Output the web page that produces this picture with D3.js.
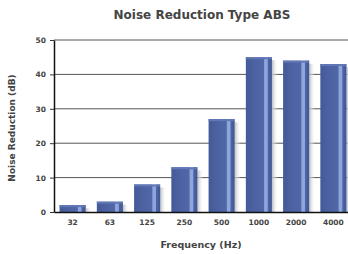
<!DOCTYPE html>
<meta charset="utf-8">
<script src="https://d3js.org/d3.v7.min.js"></script>
<style>
  body { margin: 0; background: #fff; }
  text { font-family: "DejaVu Sans", Verdana, sans-serif; fill: #444; font-weight: bold; }
</style>
<div id="chart"></div>
<script>

// chart data
var categories = ["32", "63", "125", "250", "500", "1000", "2000", "4000"];
var values = [2, 3, 8, 13, 27, 45, 44, 43];
var yTicks = [0, 10, 20, 30, 40, 50];

var W = 348, H = 254;
var margin = {top: 40, right: -4, bottom: 42, left: 54},
    width = W - margin.left - margin.right,
    height = H - margin.top - margin.bottom;

var svg = d3.select("#chart")
  .append("svg")
    .attr("width", W)
    .attr("height", H);

var defs = svg.append("defs");
var grad = defs.append("linearGradient").attr("id", "barGrad")
  .attr("x1", "0%").attr("x2", "100%").attr("y1", "0%").attr("y2", "0%");
[["0%", "#445a98"], ["40%", "#4d63a3"], ["68%", "#5067a8"], ["72%", "#8ea6dc"],
 ["82%", "#8ea6dc"], ["86%", "#4f66a6"], ["100%", "#40548f"]].forEach(function(s) {
  grad.append("stop").attr("offset", s[0]).attr("stop-color", s[1]);
});
var shad = defs.append("linearGradient").attr("id", "shadGrad")
  .attr("x1", "0%").attr("x2", "100%");
shad.append("stop").attr("offset", "0%").attr("stop-color", "#b9bcc4");
shad.append("stop").attr("offset", "100%").attr("stop-color", "#ffffff").attr("stop-opacity", 0);

var g = svg.append("g")
  .attr("transform", "translate(" + margin.left + "," + margin.top + ")");

// scales
var x = d3.scaleBand()
  .domain(categories)
  .range([0, width])
  .paddingInner(0.3)
  .paddingOuter(0.15);

var y = d3.scaleLinear()
  .domain([0, 50])
  .range([height, 0]);

// gridlines
g.append("g")
  .selectAll("line")
  .data(yTicks.slice(1))
  .enter().append("line")
    .attr("x1", 0).attr("x2", width)
    .attr("y1", function(d) { return y(d); })
    .attr("y2", function(d) { return y(d); })
    .attr("stroke", "#555")
    .attr("stroke-width", 1);

// shadows
g.append("g")
  .selectAll("rect")
  .data(values)
  .enter().append("rect")
    .attr("x", function(d, i) { return x(categories[i]) + x.bandwidth(); })
    .attr("y", function(d) { return y(d) + 3; })
    .attr("width", 6)
    .attr("height", function(d) { return height - y(d) - 3; })
    .attr("fill", "url(#shadGrad)");

// bars
g.append("g")
  .selectAll("rect")
  .data(values)
  .enter().append("rect")
    .attr("x", function(d, i) { return x(categories[i]); })
    .attr("y", function(d) { return y(d); })
    .attr("width", x.bandwidth())
    .attr("height", function(d) { return height - y(d); })
    .attr("fill", "url(#barGrad)");

// bar tops
g.append("g")
  .selectAll("rect")
  .data(values)
  .enter().append("rect")
    .attr("x", function(d, i) { return x(categories[i]); })
    .attr("y", function(d) { return y(d); })
    .attr("width", x.bandwidth())
    .attr("height", 2)
    .attr("fill", "#6177b6");

// Y axis
var yAxis = g.append("g")
  .call(d3.axisLeft(y).tickValues(yTicks).tickSize(4).tickSizeOuter(0));
yAxis.select(".domain").attr("stroke", "#111").attr("stroke-width", 1.5);
yAxis.selectAll(".tick line").attr("stroke", "#333");
yAxis.selectAll("text")
  .attr("x", -8)
  .style("font-size", "7.5px")
  .style("font-family", "DejaVu Sans")
  .attr("fill", "#333");

// X axis
var xAxis = g.append("g")
  .attr("transform", "translate(0," + height + ")")
  .call(d3.axisBottom(x).tickSize(0).tickSizeOuter(0));
xAxis.select(".domain").attr("stroke", "#111").attr("stroke-width", 1.5);
xAxis.selectAll("text")
  .attr("y", 8)
  .style("font-size", "7.5px")
  .style("font-family", "DejaVu Sans")
  .attr("fill", "#333");

// title and axis labels
svg.append("text")
  .attr("x", 202).attr("y", 19)
  .attr("text-anchor", "middle")
  .style("font-size", "12px")
  .text("Noise Reduction Type ABS");

svg.append("text")
  .attr("x", 201).attr("y", 248)
  .attr("text-anchor", "middle")
  .style("font-size", "9.5px")
  .text("Frequency (Hz)");

svg.append("text")
  .attr("transform", "translate(15,128)rotate(-90)")
  .attr("text-anchor", "middle")
  .style("font-size", "9px")
  .text("Noise Reduction (dB)");

</script>
